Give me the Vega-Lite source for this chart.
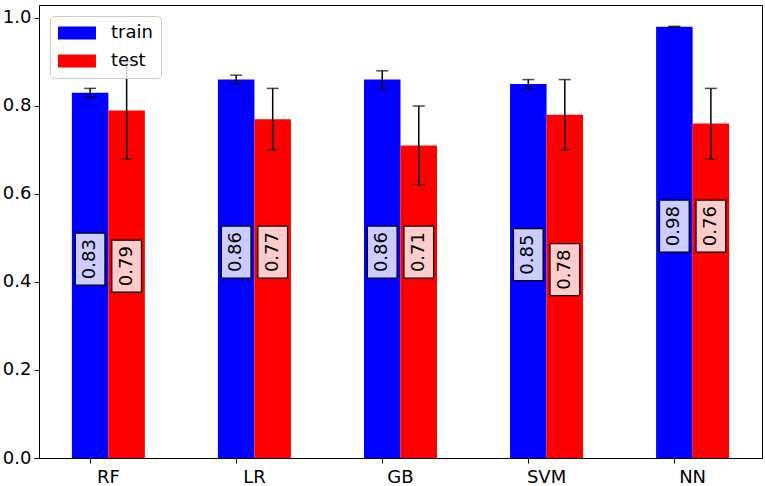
{
  "$schema": "https://vega.github.io/schema/vega-lite/v6.json",
  "width": 723,
  "height": 453,
  "autosize": "none",
  "padding": {"left": 39, "top": 5, "right": 3, "bottom": 28},
  "background": "white",
  "data": {
    "values": [
      {"model": "RF", "set": "train", "score": 0.83, "err": 0.01, "label_at": 0.452},
      {"model": "RF", "set": "test", "score": 0.79, "err": 0.11, "label_at": 0.436},
      {"model": "LR", "set": "train", "score": 0.86, "err": 0.01, "label_at": 0.468},
      {"model": "LR", "set": "test", "score": 0.77, "err": 0.07, "label_at": 0.468},
      {"model": "GB", "set": "train", "score": 0.86, "err": 0.02, "label_at": 0.468},
      {"model": "GB", "set": "test", "score": 0.71, "err": 0.09, "label_at": 0.468},
      {"model": "SVM", "set": "train", "score": 0.85, "err": 0.01, "label_at": 0.462},
      {"model": "SVM", "set": "test", "score": 0.78, "err": 0.08, "label_at": 0.428},
      {"model": "NN", "set": "train", "score": 0.98, "err": 0.001, "label_at": 0.527},
      {"model": "NN", "set": "test", "score": 0.76, "err": 0.08, "label_at": 0.527}
    ]
  },
  "transform": [
    {"calculate": "datum.score - datum.err", "as": "lo"},
    {"calculate": "datum.score + datum.err", "as": "hi"}
  ],
  "encoding": {
    "x": {
      "field": "model",
      "type": "nominal",
      "sort": ["RF", "LR", "GB", "SVM", "NN"],
      "title": null,
      "scale": {"paddingInner": 0.5, "paddingOuter": 0.225},
      "axis": {"labelAngle": 0, "bandPosition": 0.25, "labelPadding": 5}
    },
    "xOffset": {
      "field": "set",
      "type": "nominal",
      "sort": ["train", "test"],
      "scale": {"paddingInner": 0, "paddingOuter": 0}
    }
  },
  "layer": [
    {
      "mark": {"type": "bar"},
      "encoding": {
        "y": {
          "field": "score",
          "type": "quantitative",
          "title": null,
          "scale": {"domain": [0, 1.0295], "nice": false},
          "axis": {"values": [0, 0.2, 0.4, 0.6, 0.8, 1.0], "format": ".1f"}
        },
        "color": {
          "field": "set",
          "type": "nominal",
          "sort": ["train", "test"],
          "scale": {"domain": ["train", "test"], "range": ["#0000ff", "#ff0000"]},
          "legend": {
            "title": null,
            "orient": "top-left",
            "offset": 11,
            "padding": 8,
            "zindex": 1,
            "fillColor": "rgba(255,255,255,0.8)",
            "strokeColor": "#cccccc",
            "cornerRadius": 4,
            "symbolType": "M-1,-0.72L3.22,-0.72L3.22,0.72L-1,0.72Z",
            "symbolSize": 324,
            "symbolStrokeWidth": 0,
            "symbolOpacity": 1,
            "labelFontSize": 18,
            "labelFont": "DejaVu Sans",
            "labelColor": "black",
            "labelOffset": 35,
            "rowPadding": 10
          }
        }
      }
    },
    {
      "mark": {"type": "rule", "color": "black", "strokeWidth": 1.5},
      "encoding": {
        "y": {"field": "lo", "type": "quantitative"},
        "y2": {"field": "hi"}
      }
    },
    {
      "mark": {"type": "tick", "color": "black", "orient": "horizontal", "size": 12, "thickness": 1.5},
      "encoding": {"y": {"field": "lo", "type": "quantitative"}}
    },
    {
      "mark": {"type": "tick", "color": "black", "orient": "horizontal", "size": 12, "thickness": 1.5},
      "encoding": {"y": {"field": "hi", "type": "quantitative"}}
    },
    {
      "mark": {
        "type": "point",
        "shape": "M-0.57,-1L0.57,-1L0.57,1L-0.57,1Z",
        "size": 2704,
        "filled": true,
        "fill": "white",
        "fillOpacity": 0.8,
        "stroke": "black",
        "strokeWidth": 1.2,
        "strokeOpacity": 1,
        "opacity": 1
      },
      "encoding": {"y": {"field": "label_at", "type": "quantitative"}}
    },
    {
      "mark": {"type": "text", "angle": 270, "align": "center", "baseline": "middle", "fontSize": 18, "font": "DejaVu Sans", "color": "black"},
      "encoding": {
        "y": {"field": "label_at", "type": "quantitative"},
        "text": {"field": "score", "type": "quantitative", "format": ".2f"}
      }
    }
  ],
  "config": {
    "view": {"stroke": "black", "strokeWidth": 1},
    "axis": {
      "grid": false,
      "domainColor": "black",
      "tickColor": "black",
      "tickSize": 5,
      "labelFont": "DejaVu Sans",
      "labelFontSize": 18,
      "labelColor": "black",
      "labelPadding": 3
    }
  }
}
